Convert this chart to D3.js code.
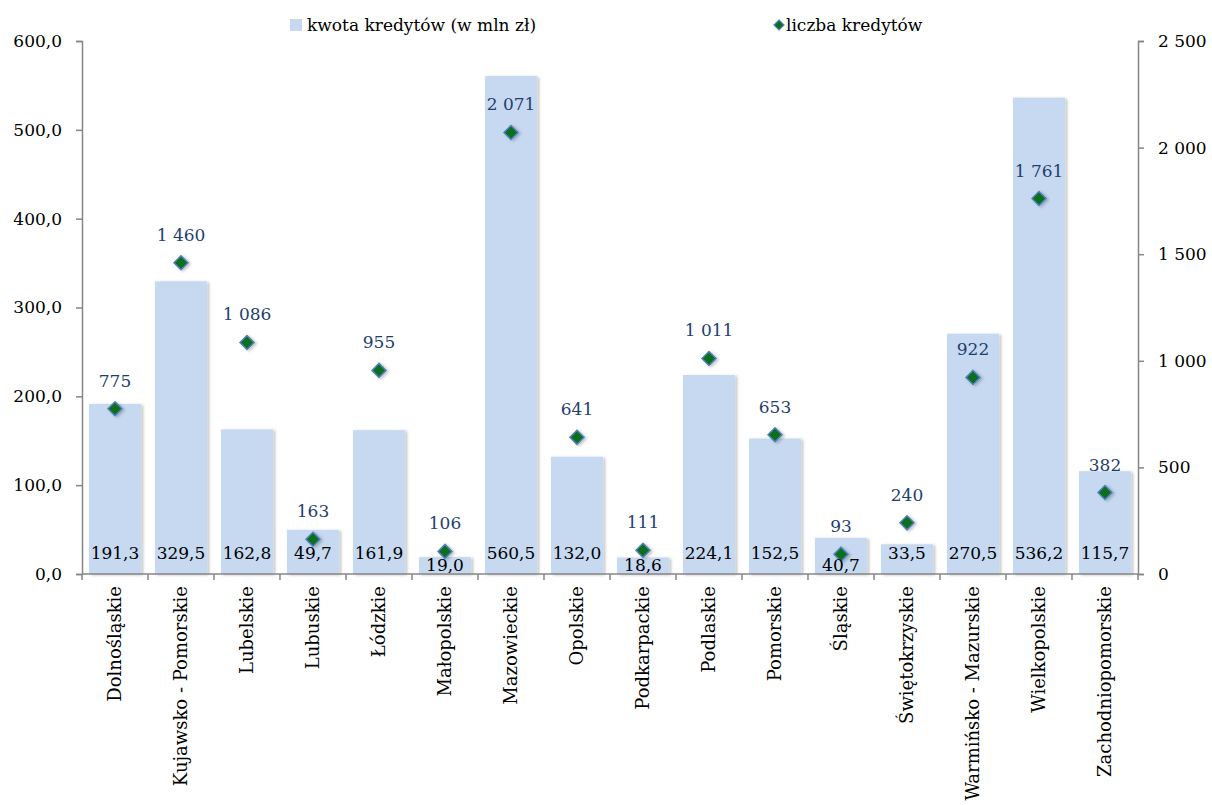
<!DOCTYPE html>
<html>
<head>
<meta charset="utf-8">
<script src="https://cdn.jsdelivr.net/npm/d3@7"></script>
<style>
  body { margin: 0; background: #fff; }
  text { font-family: "DejaVu Serif", serif; }
</style>
</head>
<body>
<div class="chart"></div>
<script>
var regions = ["Dolnośląskie", "Kujawsko - Pomorskie", "Lubelskie", "Lubuskie",
               "Łódzkie", "Małopolskie", "Mazowieckie", "Opolskie",
               "Podkarpackie", "Podlaskie", "Pomorskie", "Śląskie",
               "Świętokrzyskie", "Warmińsko - Mazurskie", "Wielkopolskie", "Zachodniopomorskie"];

var amounts = [191.3, 329.5, 162.8, 49.7, 161.9, 19.0, 560.5, 132.0,
               18.6, 224.1, 152.5, 40.7, 33.5, 270.5, 536.2, 115.7];

var counts = [775, 1460, 1086, 163, 955, 106, 2071, 641,
              111, 1011, 653, 93, 240, 922, 1761, 382];

var leftTicks = [0, 100, 200, 300, 400, 500, 600];
var rightTicks = [0, 500, 1000, 1500, 2000, 2500];

var width = 1212, height = 805;
var plotLeft = 82, plotRight = 1138, plotTop = 41, plotBottom = 574;

var data = regions.map(function(r, i) {
	return { name: r, amount: amounts[i], count: counts[i] };
});

var svg = d3.select(".chart").append("svg")
	.attr("width", width)
	.attr("height", height);

var defs = svg.append("defs");
var shadow = defs.append("filter").attr("id", "shadow")
	.attr("x", "-20%").attr("y", "-20%").attr("width", "150%").attr("height", "150%");
shadow.append("feDropShadow")
	.attr("dx", 2).attr("dy", 1).attr("stdDeviation", 1.5)
	.attr("flood-color", "#000").attr("flood-opacity", 0.25);

var x = d3.scaleBand()
	.domain(regions)
	.range([plotLeft, plotRight])
	.paddingInner(0.21)
	.paddingOuter(0.105);

var yLeft = d3.scaleLinear().domain([0, 600]).range([plotBottom, plotTop]);
var yRight = d3.scaleLinear().domain([0, 2500]).range([plotBottom, plotTop]);

var fmtLeft = function(v) { return d3.format(".1f")(v).replace(".", ","); };
var fmtRight = function(v) { return d3.format(",")(v).replace(/,/g, "\u00a0"); };
var fmtAmount = function(v) { return d3.format(".1f")(v).replace(".", ","); };

// bars
svg.append("g")
	.selectAll("rect")
	.data(data)
	.enter().append("rect")
	.attr("x", function(d) { return x(d.name); })
	.attr("y", function(d) { return yLeft(d.amount); })
	.attr("width", x.bandwidth())
	.attr("height", function(d) { return plotBottom - yLeft(d.amount); })
	.attr("fill", "#c6d9f1")
	.attr("filter", "url(#shadow)");

// axes
var axisColor = "#868686";
var gl = svg.append("g")
	.attr("transform", "translate(" + plotLeft + ",0)")
	.call(d3.axisLeft(yLeft).tickValues(leftTicks).tickFormat(fmtLeft).tickSize(6).tickSizeOuter(6).tickPadding(14));
var gr = svg.append("g")
	.attr("transform", "translate(" + plotRight + ",0)")
	.call(d3.axisRight(yRight).tickValues(rightTicks).tickFormat(fmtRight).tickSize(6).tickSizeOuter(6).tickPadding(14));

// x axis line with ticks at category boundaries
var gx = svg.append("g");
gx.append("line")
	.attr("x1", plotLeft).attr("x2", plotRight)
	.attr("y1", plotBottom).attr("y2", plotBottom)
	.attr("stroke", axisColor).attr("stroke-width", 1.5);
var step = x.step();
var boundaries = d3.range(regions.length + 1).map(function(i) { return plotLeft + i * step; });
gx.selectAll("line.tick")
	.data(boundaries)
	.enter().append("line")
	.attr("class", "tick")
	.attr("x1", function(d) { return d; }).attr("x2", function(d) { return d; })
	.attr("y1", plotBottom).attr("y2", plotBottom + 6)
	.attr("stroke", axisColor).attr("stroke-width", 1.5);

[gl, gr].forEach(function(g) {
	g.select(".domain").attr("stroke", axisColor).attr("stroke-width", 1.5);
	g.selectAll(".tick line").attr("stroke", axisColor).attr("stroke-width", 1.5);
	g.selectAll(".tick text")
		.attr("font-family", "DejaVu Serif")
		.attr("font-size", 17)
		.attr("fill", "#000");
});

// category labels
gx.selectAll("text")
	.data(data)
	.enter().append("text")
	.attr("transform", function(d) {
		return "translate(" + (x(d.name) + x.bandwidth() / 2 + 6) + "," + (plotBottom + 12) + ") rotate(-90)";
	})
	.attr("text-anchor", "end")
	.attr("font-size", 18)
	.attr("fill", "#000")
	.text(function(d) { return d.name; });

// diamonds
var cx = function(d) { return x(d.name) + x.bandwidth() / 2; };
svg.append("g")
	.selectAll("path")
	.data(data)
	.enter().append("path")
	.attr("transform", function(d) { return "translate(" + cx(d) + "," + yRight(d.count) + ")"; })
	.attr("d", "M0,-7L7,0L0,7L-7,0Z")
	.attr("fill", "#0a6e1a")
	.attr("stroke", "#4f81bd")
	.attr("stroke-width", 1.5)
	.attr("filter", "url(#shadow)");

// bar value labels (small bars: label sits lower, on the axis; Śląskie moved down in original)
svg.append("g")
	.selectAll("text")
	.data(data)
	.enter().append("text")
	.attr("x", function(d) { return x(d.name) + x.bandwidth() / 2; })
	.attr("y", function(d) {
		var h = plotBottom - yLeft(d.amount);
		if(h < 20 || d.name === "Śląskie") return 571;
		return 559;
	})
	.attr("text-anchor", "middle")
	.attr("font-size", 17)
	.attr("fill", "#000")
	.text(function(d) { return fmtAmount(d.amount); });

// count labels
svg.append("g")
	.selectAll("text")
	.data(data)
	.enter().append("text")
	.attr("x", cx)
	.attr("y", function(d) { return yRight(d.count) - 22; })
	.attr("text-anchor", "middle")
	.attr("font-size", 17)
	.attr("fill", "#1f3f6e")
	.text(function(d) { return fmtRight(d.count); });

// legend
var legend = svg.append("g");
legend.append("rect")
	.attr("x", 290).attr("y", 19).attr("width", 12).attr("height", 12)
	.attr("fill", "#c6d9f1");
legend.append("text")
	.attr("x", 307).attr("y", 31)
	.attr("font-size", 17)
	.text("kwota kredytów (w mln zł)");
legend.append("path")
	.attr("transform", "translate(779,25)")
	.attr("d", "M0,-5L5,0L0,5L-5,0Z")
	.attr("fill", "#0a6e1a")
	.attr("stroke", "#4f81bd")
	.attr("stroke-width", 1.2);
legend.append("text")
	.attr("x", 786).attr("y", 31)
	.attr("font-size", 17)
	.text("liczba kredytów");
</script>
</body>
</html>
